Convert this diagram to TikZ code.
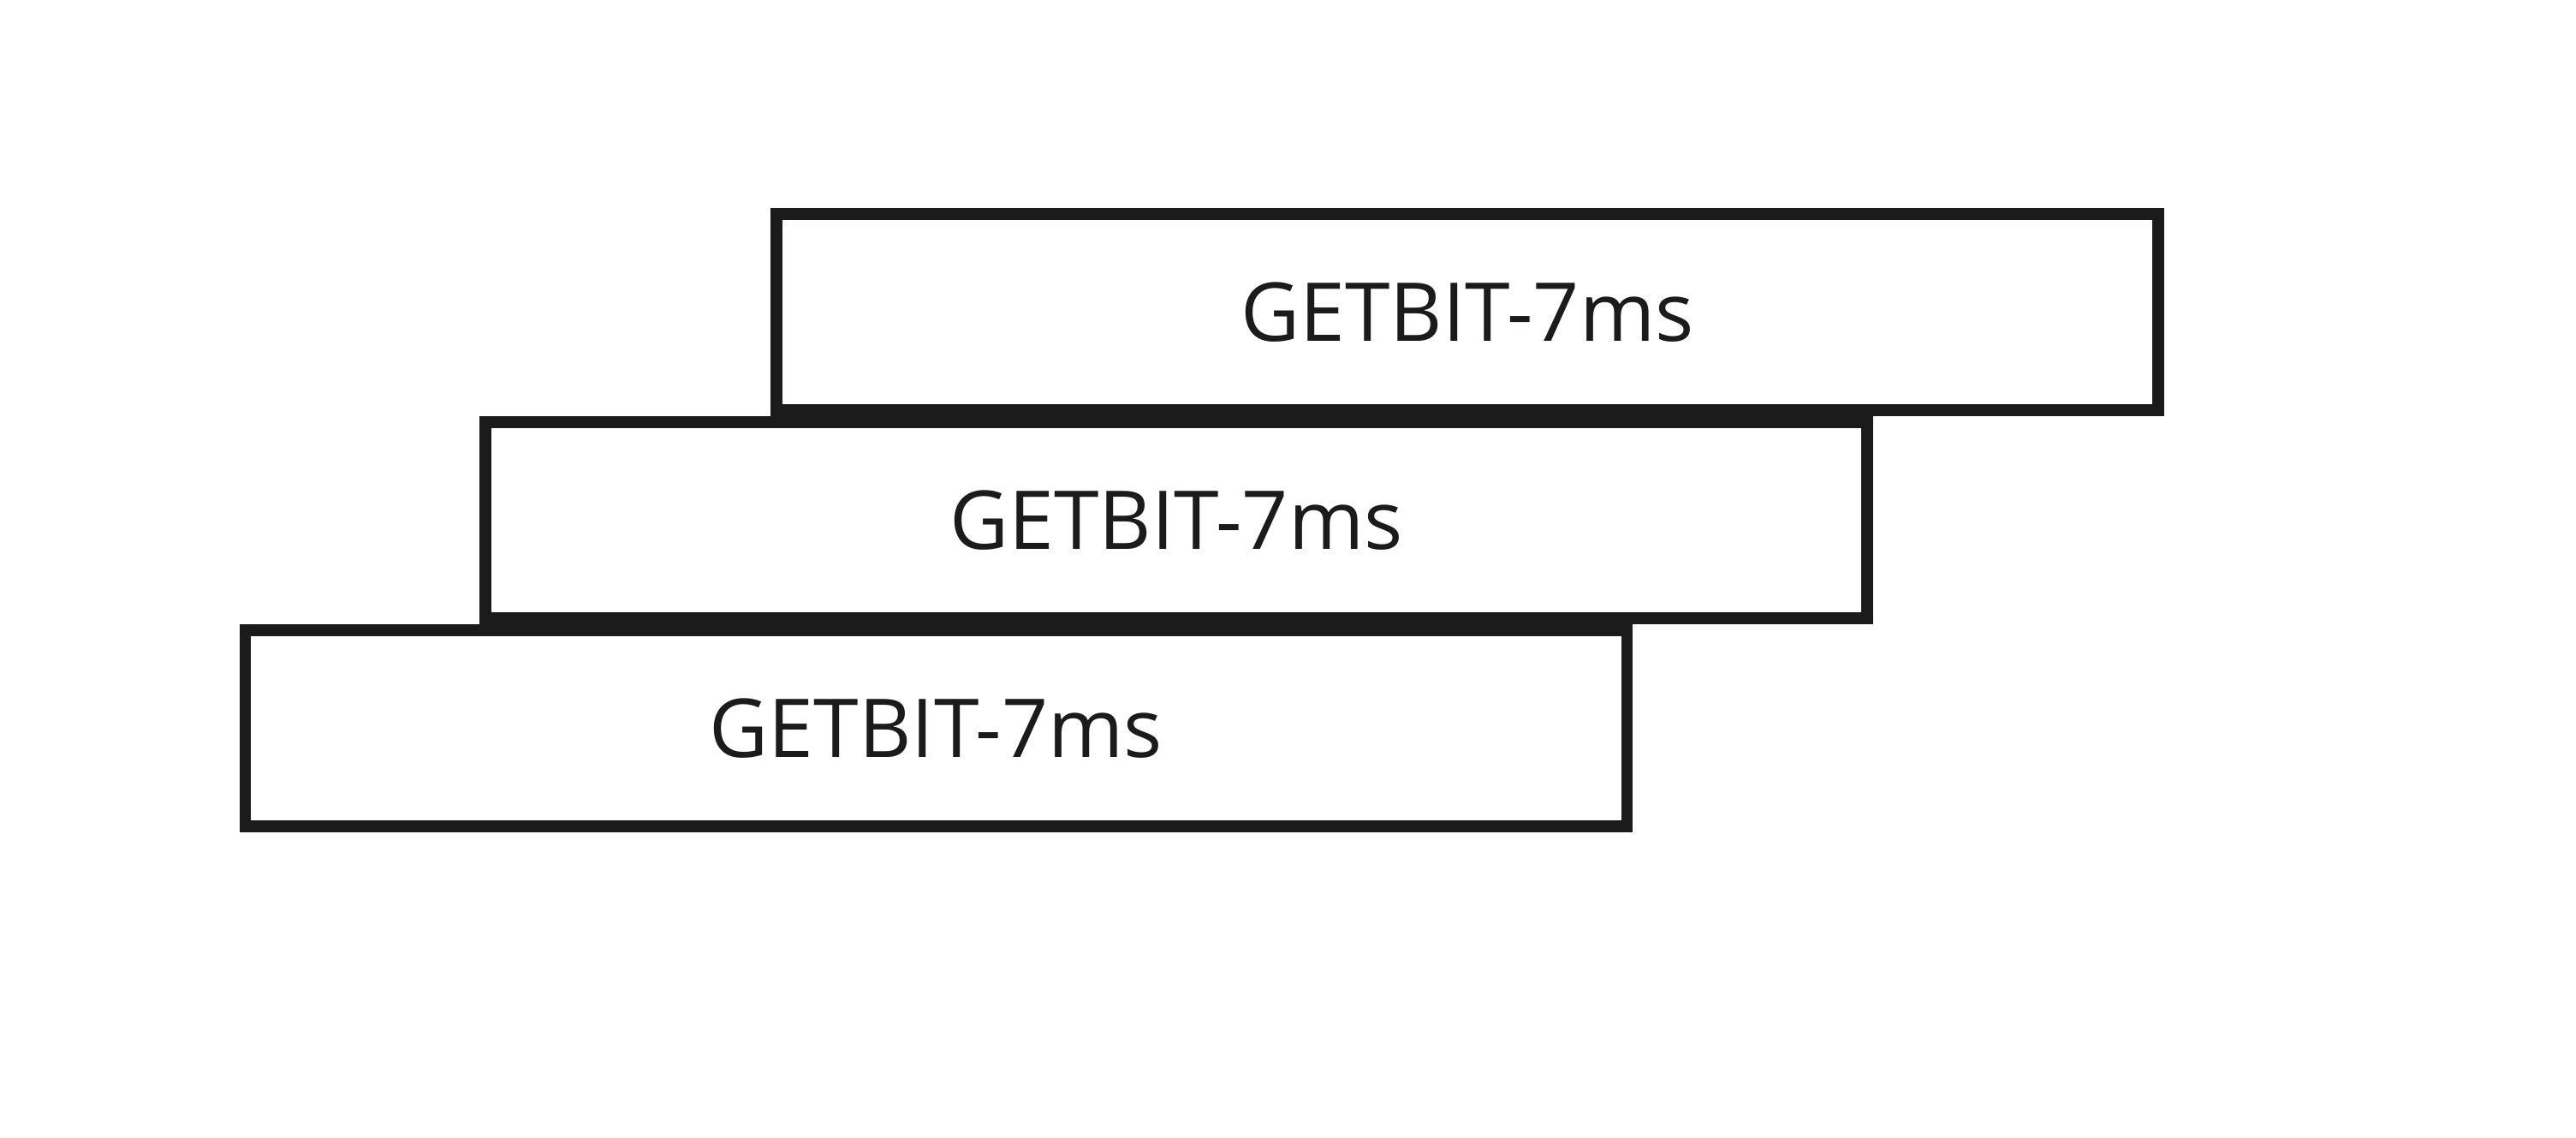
\documentclass[tikz,border=0pt]{standalone}
\usepackage{fontspec}
\setmainfont{Open Sans}
\usepackage{tikz}
\usetikzlibrary{positioning}
\definecolor{boxline}{HTML}{1B1B1B}

\begin{document}
\begin{tikzpicture}[
    getbox/.style={draw=boxline, line width=0.135cm, rectangle,
      minimum width=16.14cm, minimum height=2.29cm, inner sep=0pt,
      text=boxline, font=\fontsize{27pt}{32pt}\selectfont}]
  \useasboundingbox (0,0) rectangle (30.09,13.29);
  \foreach \name/\x/\y in {upper/17.14/9.645, middle/13.74/7.215, lower/10.935/4.785}
    \node[getbox] (\name) at (\x,\y) {GETBIT-7ms};
\end{tikzpicture}
\end{document}
